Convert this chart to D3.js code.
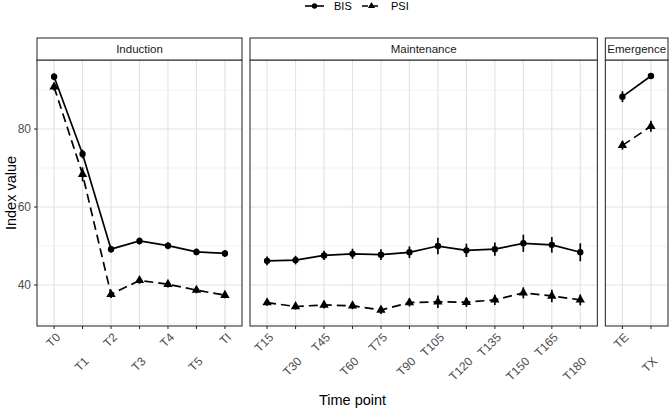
<!DOCTYPE html>
<html>
<head>
<meta charset="utf-8">
<script src="https://cdn.jsdelivr.net/npm/d3@7"></script>
<style>
  body { margin: 0; background: #fff; }
  text { font-family: "Liberation Sans", Arial, sans-serif; }
</style>
</head>
<body>
<div id="chart"></div>
<script>
// phases and their time points
const phases = ["Induction", "Maintenance", "Emergence"];
const inductionPts = ["T0", "T1", "T2", "T3", "T4", "T5", "TI"];
const maintenancePts = ["T15", "T30", "T45", "T60", "T75", "T90", "T105", "T120", "T135", "T150", "T165", "T180"];
const emergencePts = ["TE", "TX"];

// BIS means / errors
const bisInduction = [93.4, 73.6, 49.2, 51.3, 50.1, 48.5, 48.1];
const bisMaintenance = [46.2, 46.4, 47.6, 48.0, 47.8, 48.4, 50.0, 48.9, 49.2, 50.7, 50.3, 48.4];
const bisEmergence = [88.3, 93.6];
const bisErrInduction = [0.9, 1.1, 0.9, 0.9, 0.9, 0.9, 0.9];
const bisErrMaintenance = [1.1, 1.1, 1.2, 1.3, 1.4, 1.5, 2.1, 1.7, 1.7, 2.2, 2.0, 2.3];
const bisErrEmergence = [1.4, 0.7];

// PSI means / errors
const psiInduction = [90.8, 68.4, 37.6, 41.2, 40.2, 38.7, 37.4];
const psiMaintenance = [35.5, 34.5, 34.9, 34.7, 33.6, 35.5, 35.7, 35.6, 36.2, 38.0, 37.2, 36.2];
const psiEmergence = [75.8, 80.7];
const psiErrInduction = [0.9, 1.8, 0.9, 0.9, 0.8, 0.8, 0.8];
const psiErrMaintenance = [0.8, 0.8, 0.9, 0.9, 1.0, 1.0, 1.6, 1.2, 1.3, 1.4, 1.6, 1.4];
const psiErrEmergence = [1.1, 1.4];

const yTicks = [40, 60, 80];
const yMinor = [30, 50, 70, 90];

const width = 669, height = 408;
const margin = {left: 37, right: 1, top: 38, bottom: 82};
const stripH = 22, gap = 8;
const panelTop = margin.top + stripH;
const panelBottom = height - margin.bottom;

const svg = d3.select("#chart").append("svg")
  .attr("width", width)
  .attr("height", height);

const pointsByPhase = [inductionPts, maintenancePts, emergencePts];
const seriesDefs = [
  {name: "BIS", vals: [bisInduction, bisMaintenance, bisEmergence],
   errs: [bisErrInduction, bisErrMaintenance, bisErrEmergence], dash: null, shape: d3.symbolCircle},
  {name: "PSI", vals: [psiInduction, psiMaintenance, psiEmergence],
   errs: [psiErrInduction, psiErrMaintenance, psiErrEmergence], dash: "9,5", shape: d3.symbolTriangle}
];

// free x space, like facet_grid(space = "free_x")
const units = pointsByPhase.map(p => p.length - 1 + 1.2);
const totalW = width - margin.left - margin.right - gap * (phases.length - 1);
const unitW = totalW / d3.sum(units);

const y = d3.scaleLinear()
  .domain([29.5, 97.7])
  .range([panelBottom, panelTop]);

let left = margin.left;
phases.forEach((phase, pi) => {
  const pw = units[pi] * unitW;
  const x = d3.scalePoint()
    .domain(pointsByPhase[pi])
    .range([left, left + pw])
    .padding(0.6);

  const g = svg.append("g");

  // grid
  g.selectAll(".ymin").data(yMinor).enter().append("line")
    .attr("x1", left).attr("x2", left + pw)
    .attr("y1", d => y(d)).attr("y2", d => y(d))
    .style("stroke", "#ebebeb").style("stroke-width", 0.6);
  g.selectAll(".ymaj").data(yTicks).enter().append("line")
    .attr("x1", left).attr("x2", left + pw)
    .attr("y1", d => y(d)).attr("y2", d => y(d))
    .style("stroke", "#e2e2e2").style("stroke-width", 1.1);
  g.selectAll(".xmaj").data(pointsByPhase[pi]).enter().append("line")
    .attr("x1", d => x(d)).attr("x2", d => x(d))
    .attr("y1", panelTop).attr("y2", panelBottom)
    .style("stroke", "#e2e2e2").style("stroke-width", 1.1);

  // series
  seriesDefs.forEach(s => {
    const data = pointsByPhase[pi].map((t, i) => ({t: t, v: s.vals[pi][i], e: s.errs[pi][i]}));
    g.append("path")
      .datum(data)
      .attr("d", d3.line().x(d => x(d.t)).y(d => y(d.v)))
      .style("fill", "none")
      .style("stroke", "#000")
      .style("stroke-width", 1.7)
      .style("stroke-dasharray", s.dash);
    g.selectAll(null).data(data).enter().append("line")
      .attr("x1", d => x(d.t)).attr("x2", d => x(d.t))
      .attr("y1", d => y(d.v - d.e)).attr("y2", d => y(d.v + d.e))
      .style("stroke", "#000").style("stroke-width", 1.7);
    g.selectAll(null).data(data).enter().append("path")
      .attr("transform", d => "translate(" + x(d.t) + "," + y(d.v) + ")")
      .attr("d", d3.symbol().type(s.shape).size(s.name === "BIS" ? 32 : 38))
      .style("fill", "#000");
  });

  // panel border
  g.append("rect")
    .attr("x", left).attr("y", panelTop)
    .attr("width", pw).attr("height", panelBottom - panelTop)
    .style("fill", "none").style("stroke", "#333").style("stroke-width", 1.1);

  // strip
  g.append("rect")
    .attr("x", left).attr("y", margin.top)
    .attr("width", pw).attr("height", stripH)
    .style("fill", "#fff").style("stroke", "#333").style("stroke-width", 1.1);
  g.append("text")
    .text(phase)
    .attr("x", left + pw / 2)
    .attr("y", margin.top + stripH / 2)
    .attr("dy", "0.35em")
    .attr("text-anchor", "middle")
    .style("font-size", "11.5px")
    .style("fill", "#1a1a1a");

  // x axis: ticks and dodged, rotated labels
  const ax = g.append("g");
  ax.selectAll("line").data(pointsByPhase[pi]).enter().append("line")
    .attr("x1", d => x(d)).attr("x2", d => x(d))
    .attr("y1", panelBottom).attr("y2", panelBottom + 3)
    .style("stroke", "#333").style("stroke-width", 1.1);
  ax.selectAll("text").data(pointsByPhase[pi]).enter().append("text")
    .text(d => d)
    .attr("transform", (d, i) => "translate(" + (x(d) + 1) + "," + (panelBottom + 6 + (i % 2) * 24) + ") rotate(-45)")
    .attr("dy", "0.71em")
    .attr("text-anchor", "end")
    .style("font-size", "12px")
    .style("fill", "#4d4d4d");

  // y axis on first panel only
  if (pi === 0) {
    const ay = g.append("g");
    ay.selectAll("line").data(yTicks).enter().append("line")
      .attr("x1", left - 3).attr("x2", left)
      .attr("y1", d => y(d)).attr("y2", d => y(d))
      .style("stroke", "#333").style("stroke-width", 1.1);
    ay.selectAll("text").data(yTicks).enter().append("text")
      .text(d => d)
      .attr("x", left - 6)
      .attr("y", d => y(d))
      .attr("dy", "0.35em")
      .attr("text-anchor", "end")
      .style("font-size", "12px")
      .style("fill", "#4d4d4d");
  }

  left += pw + gap;
});

// axis titles
svg.append("text")
  .text("Index value")
  .attr("transform", "translate(11," + ((panelTop + panelBottom) / 2) + ") rotate(-90)")
  .attr("dy", "0.35em")
  .attr("text-anchor", "middle")
  .style("font-size", "14.5px");

svg.append("text")
  .text("Time point")
  .attr("x", (margin.left + width - margin.right) / 2)
  .attr("y", height - 8)
  .attr("dy", "0.35em")
  .attr("text-anchor", "middle")
  .style("font-size", "14.5px");

// legend
const legend = svg.append("g").attr("transform", "translate(0,6)");
const legendX = [305, 362];
seriesDefs.forEach((s, i) => {
  const lx = legendX[i];
  legend.append("line")
    .attr("x1", lx).attr("x2", lx + 19)
    .attr("y1", 0).attr("y2", 0)
    .style("stroke", "#000").style("stroke-width", 1.6)
    .style("stroke-dasharray", s.dash ? "6,4" : null);
  legend.append("path")
    .attr("transform", "translate(" + (lx + 9.5) + ",0)")
    .attr("d", d3.symbol().type(s.shape).size(22))
    .style("fill", "#000");
  legend.append("text")
    .text(s.name)
    .attr("x", lx + 29)
    .attr("y", 0)
    .attr("dy", "0.35em")
    .style("font-size", "11px");
});
</script>
</body>
</html>
